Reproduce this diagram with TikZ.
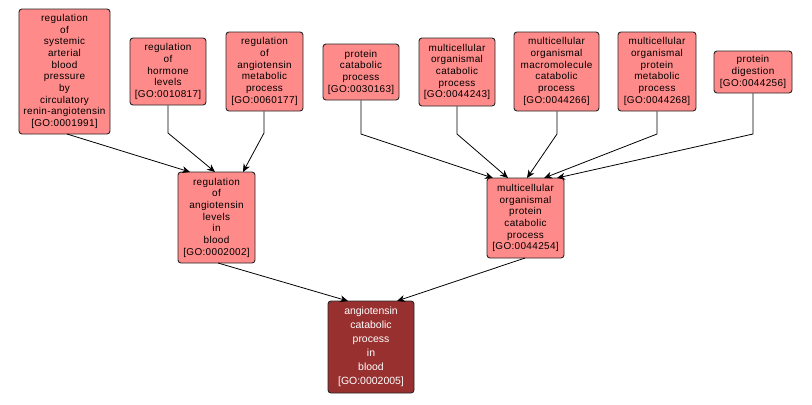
\documentclass[tikz,border=0pt]{standalone}
\usepackage{fontspec}
\setmainfont{Liberation Sans}
\newfontfamily\lightfont[LetterSpace=3.5]{Liberation Sans}
\usetikzlibrary{arrows.meta}
\definecolor{lightgo}{RGB}{255,138,138}
\definecolor{darkgo}{RGB}{153,48,48}
\tikzset{
  goterm/.style={draw=black!85, line width=0.9pt, rounded corners=3pt, fill=lightgo,
    align=center, inner sep=0pt, font=\lightfont\fontsize{10}{11.7}\selectfont, text=black},
  goroot/.style={draw=black!85, line width=0.9pt, rounded corners=3pt, fill=darkgo,
    align=center, inner sep=0pt, font=\fontsize{10.5}{14}\selectfont, text=white},
  goedge/.style={draw=black, line width=0.8pt, -{Stealth[length=8pt,width=7pt,inset=2.5pt]}}
}
\begin{document}
\begin{tikzpicture}[x=1bp,y=-1bp]
\useasboundingbox (0,0) rectangle (812,404);
% top row
\node[goterm, minimum width=91bp, minimum height=125bp] (A) at (64.5,71.5)
  {regulation\\of\\systemic\\arterial\\blood\\pressure\\by\\circulatory\\renin-angiotensin\\{[GO:0001991]}};
\node[goterm, minimum width=76bp, minimum height=67bp] (B) at (168,71.5)
  {regulation\\of\\hormone\\levels\\{[GO:0010817]}};
\node[goterm, minimum width=77bp, minimum height=79bp] (C) at (264.5,71.5)
  {regulation\\of\\angiotensin\\metabolic\\process\\{[GO:0060177]}};
\node[goterm, minimum width=76bp, minimum height=56bp] (D) at (361,72)
  {protein\\catabolic\\process\\{[GO:0030163]}};
\node[goterm, minimum width=76bp, minimum height=68bp] (E) at (457,72)
  {multicellular\\organismal\\catabolic\\process\\{[GO:0044243]}};
\node[goterm, minimum width=85bp, minimum height=79bp] (F) at (556.5,71.5)
  {multicellular\\organismal\\macromolecule\\catabolic\\process\\{[GO:0044266]}};
\node[goterm, minimum width=78bp, minimum height=79bp] (G) at (657,71.5)
  {multicellular\\organismal\\protein\\metabolic\\process\\{[GO:0044268]}};
\node[goterm, minimum width=78bp, minimum height=42bp] (H) at (753,72)
  {protein\\digestion\\{[GO:0044256]}};
% middle row
\node[goterm, minimum width=77bp, minimum height=91bp] (I) at (216.5,217.5)
  {regulation\\of\\angiotensin\\levels\\in\\blood\\{[GO:0002002]}};
\node[goterm, minimum width=77bp, minimum height=80bp] (J) at (525.5,218)
  {multicellular\\organismal\\protein\\catabolic\\process\\{[GO:0044254]}};
% bottom
\node[goroot, minimum width=86bp, minimum height=92bp] (K) at (371,347)
  {angiotensin\\catabolic\\process\\in\\blood\\{[GO:0002005]}};
% bends and targets
\coordinate (bB) at (168,133);
\coordinate (bC) at (264,133);
\coordinate (bD) at (361,134);
\coordinate (bE) at (457,134);
\coordinate (bF) at (557,134);
\coordinate (bG) at (657,134);
\coordinate (bH) at (753,134);
\coordinate (sA) at (67,134);
\coordinate (tAI) at (190,172);
\coordinate (tBI) at (215,172);
\coordinate (tCI) at (243,172);
\coordinate (tDJ) at (493,178);
\coordinate (tEJ) at (508,178);
\coordinate (tFJ) at (527,178);
\coordinate (tGJ) at (544,178);
\coordinate (tHJ) at (557,178);
\coordinate (sI) at (218,263);
\coordinate (sJ) at (525,258);
\coordinate (tIK) at (348,301);
\coordinate (tJK) at (397,301);
% edges
\draw[goedge] (sA) -- (tAI);
\draw[goedge] (B.south) -- (bB) -- (tBI);
\draw[goedge] (C.south -| bC) -- (bC) -- (tCI);
\draw[goedge] (D.south -| bD) -- (bD) -- (tDJ);
\draw[goedge] (E.south -| bE) -- (bE) -- (tEJ);
\draw[goedge] (F.south -| bF) -- (bF) -- (tFJ);
\draw[goedge] (G.south -| bG) -- (bG) -- (tGJ);
\draw[goedge] (H.south -| bH) -- (bH) -- (tHJ);
\draw[goedge] (sI) -- (tIK);
\draw[goedge] (sJ) -- (tJK);
\end{tikzpicture}
\end{document}
